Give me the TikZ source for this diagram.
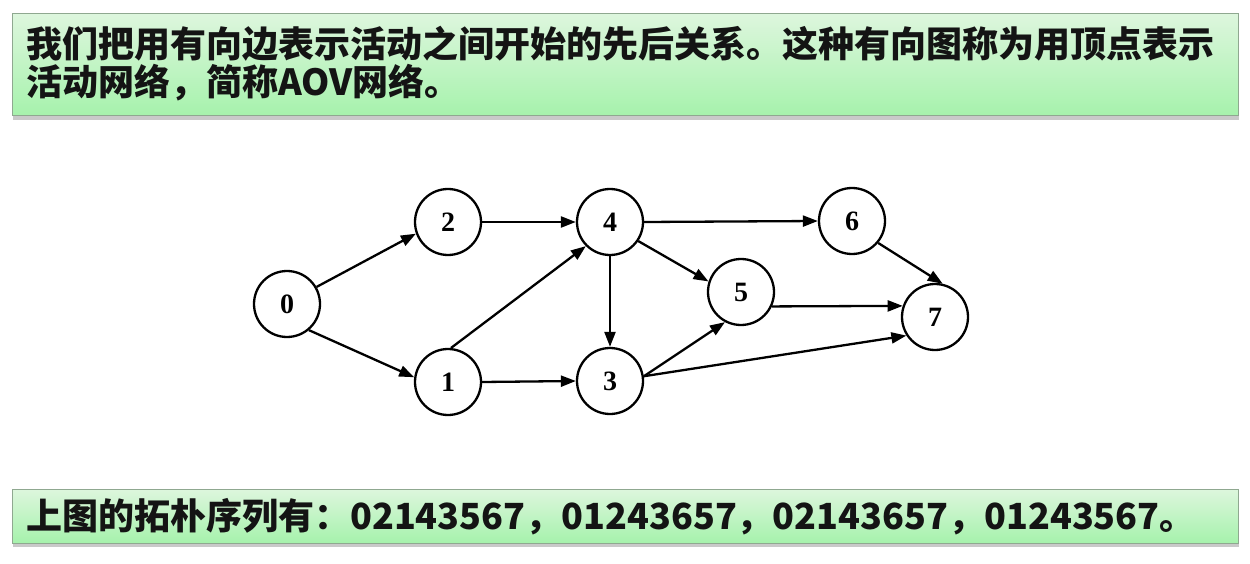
\documentclass[tikz,border=0pt]{standalone}
\usepackage{fontspec}
\setmainfont{Liberation Serif}
\newfontfamily\cjk{Noto Sans CJK SC}
\usetikzlibrary{arrows.meta,shadows}
\definecolor{boxtop}{HTML}{DDF6DD}
\definecolor{boxbot}{HTML}{A6F2AC}
\definecolor{boxline}{HTML}{8FA890}
\definecolor{txt}{HTML}{141414}
\tikzset{
  banner/.style={draw=boxline, line width=1pt, top color=boxtop, bottom color=boxbot,
    drop shadow={shadow xshift=1pt, shadow yshift=-4pt, opacity=0.35, fill=black!60}},
  bantext/.style={anchor=west, inner sep=0pt, text=txt, font=\cjk\bfseries\fontsize{36}{40}\selectfont, align=left},
  vtx/.style={circle, draw=black, line width=2.3pt, minimum size=66pt, inner sep=0pt, fill=white,
    font=\bfseries\fontsize{28}{28}\selectfont},
  arc/.style={line width=2.3pt, -{Triangle[length=15pt,width=11pt]}}
}
\begin{document}
\begin{tikzpicture}[x=1pt,y=-1pt]
\useasboundingbox (0,0) rectangle (1250,564);
\fill[white] (0,0) rectangle (1250,564);
% banners
\path[banner] (12,14) rectangle (1238,116);
\node[bantext] (t1) at (26,44) {我们把用有向边表示活动之间开始的先后关系。这种有向图称为用顶点表示};
\node[bantext] (t2) at (26,83) {活动网络，简称AOV网络。};
\path[banner] (12,489) rectangle (1238,543);
\node[bantext] (t3) at (26,517) {上图的拓朴序列有：02143567，01243657，02143657，01243567。};
% vertices
\node[vtx] (n0) at (287,304) {0};
\node[vtx] (n2) at (448,222) {2};
\node[vtx] (n4) at (610,222) {4};
\node[vtx] (n6) at (852,221) {6};
\node[vtx] (n5) at (741,292) {5};
\node[vtx] (n7) at (935,317) {7};
\node[vtx] (n1) at (448,382) {1};
\node[vtx] (n3) at (610,381) {3};
% arcs
\draw[arc] (n0.30) -- (n2.200);
\draw[arc] (n0.-50) -- (n1.172);
\draw[arc] (n2.east) -- (n4.west);
\draw[arc] (n1.85) -- (n4.225);
\draw[arc] (n1.east) -- (n3.west);
\draw[arc] (n4.south) -- (n3.north);
\draw[arc] (n4.east) -- (n6.west);
\draw[arc] (n4.-34) -- (n5.162);
\draw[arc] (n3.8) -- (n5.242);
\draw[arc] (n3.8) -- (n7.-147);
\draw[arc] (n5.-25) -- (n7.161);
\draw[arc] (n6.-40) -- (n7.77);
\end{tikzpicture}
\end{document}
